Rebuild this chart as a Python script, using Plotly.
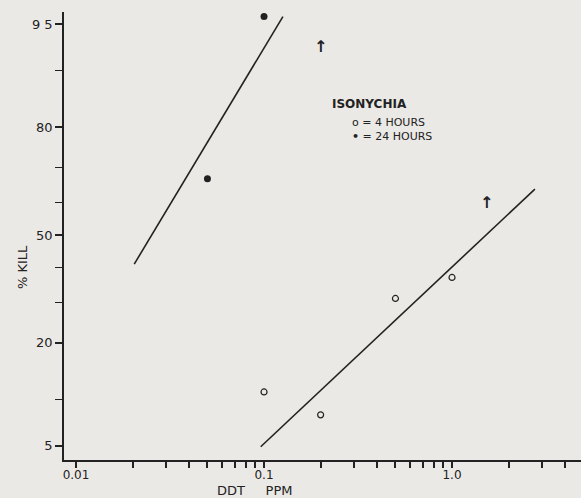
import math
from statistics import NormalDist
import plotly.graph_objects as go

# ---- data ----
conc_4h = [0.1, 0.2, 0.5, 1.0]
kill_4h = [11, 8, 31, 37]
conc_24h = [0.05, 0.1]
kill_24h = [67, 95.6]

line_4h_x = [0.096, 2.76]
line_4h_y = [4.9, 64]
line_24h_x = [0.0204, 0.126]
line_24h_y = [41, 95.6]

arrow_x = [0.2, 1.52]
arrow_y = [93, 60]

y_major = [5, 20, 50, 80, 95]
y_major_text = ["5", "20", "50", "80", "9 5"]
y_minor = [10, 30, 40, 60, 70, 90]
x_major = [0.01, 0.1, 1.0]
x_major_text = ["0.01", "0.1", "1.0"]
x_minor = [k * 10 ** e for e in (-2, -1, 0) for k in range(2, 10)]

nd = NormalDist()
def probit(p):
    return nd.inv_cdf(p / 100.0)

ink = "#222222"
font = dict(family="DejaVu Sans, Liberation Sans, sans-serif", color=ink)

fig = go.Figure()
fig.add_trace(go.Scatter(x=line_24h_x, y=[probit(v) for v in line_24h_y], mode="lines",
                         line=dict(color=ink, width=1.6), showlegend=False, hoverinfo="skip",
                         cliponaxis=False))
fig.add_trace(go.Scatter(x=line_4h_x, y=[probit(v) for v in line_4h_y], mode="lines",
                         line=dict(color=ink, width=1.6), showlegend=False, hoverinfo="skip"))
fig.add_trace(go.Scatter(x=conc_4h, y=[probit(v) for v in kill_4h], mode="markers",
                         marker=dict(symbol="circle-open", size=6, color=ink, line=dict(width=1.2)),
                         showlegend=False))
fig.add_trace(go.Scatter(x=conc_24h, y=[probit(v) for v in kill_24h], mode="markers",
                         marker=dict(symbol="circle", size=7, color=ink),
                         showlegend=False, cliponaxis=False))

for ax, ay in zip(arrow_x, arrow_y):
    fig.add_annotation(x=math.log10(ax), y=probit(ay), xref="x", yref="y", text="<b>↑</b>",
                       showarrow=False, font=dict(family="DejaVu Sans", size=16, color=ink))

fig.add_annotation(x=0.515, y=0.795, xref="paper", yref="paper", xanchor="left", yanchor="middle",
                   text="<b>ISONYCHIA</b>", showarrow=False, font=dict(font, size=12))
fig.add_annotation(x=0.553, y=0.753, xref="paper", yref="paper", xanchor="left", yanchor="middle",
                   text="o = 4 HOURS", showarrow=False, font=dict(font, size=11))
fig.add_annotation(x=0.553, y=0.722, xref="paper", yref="paper", xanchor="left", yanchor="middle",
                   text="<b>•</b> = 24 HOURS", showarrow=False, font=dict(font, size=11))

W, H = 581, 498
L, R, T, B = 64, 0, 12, 38
pw, ph = W - L - R, H - T - B

fig.add_annotation(x=(22 - L) / pw, y=(H - B - 267) / ph, xref="paper", yref="paper",
                   xanchor="center", yanchor="middle",
                   text="% KILL", textangle=-90, showarrow=False, font=dict(font, size=13))
fig.add_annotation(x=(255 - L) / pw, y=(H - B - 490) / ph, xref="paper", yref="paper",
                   xanchor="center", yanchor="middle",
                   text="DDT     PPM", showarrow=False, font=dict(font, size=13))

x_ticks = x_major + x_minor
x_text = x_major_text + [""] * len(x_minor)

fig.update_layout(
    width=W, height=H,
    margin=dict(l=L, r=R, t=T, b=B, pad=0),
    paper_bgcolor="#ebe9e6", plot_bgcolor="#ebe9e6",
    font=dict(font, size=13),
    xaxis=dict(type="log", range=[-2.064, 0.686], showgrid=False, zeroline=False,
               showline=True, linecolor=ink, linewidth=1.6,
               tickvals=x_ticks, ticktext=x_text, ticks="outside", ticklen=6,
               tickwidth=1.5, tickcolor=ink, tickfont=dict(font, size=12),
               ticklabelstandoff=-3),
    yaxis=dict(range=[-1.758, 1.742], showgrid=False, zeroline=False,
               showline=True, linecolor=ink, linewidth=1.6,
               tickvals=[probit(v) for v in y_major], ticktext=y_major_text,
               ticks="outside", ticklen=7, tickwidth=1.6, tickcolor=ink,
               tickfont=dict(font, size=13),
               minor=dict(tickvals=[probit(v) for v in y_minor], ticks="outside", ticklen=7,
                          tickwidth=1.4, tickcolor=ink, showgrid=False)),
)

fig.write_html("out.html", config={"displayModeBar": False},
               post_script="document.body.style.margin='0';document.body.style.background='#ebe9e6';")
